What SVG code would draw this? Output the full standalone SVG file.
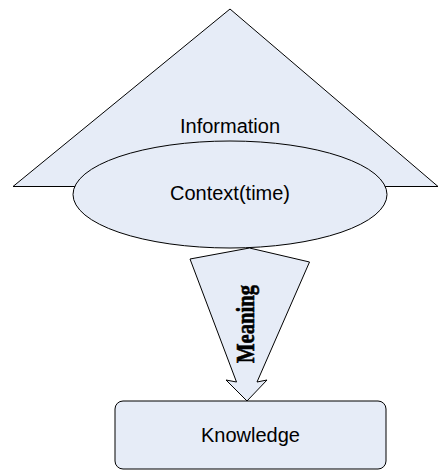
<svg xmlns="http://www.w3.org/2000/svg" width="441" height="471" viewBox="0 0 441 471">
<style>
.shape{fill:#E6ECF7;stroke:#000;stroke-width:1}
.lbl{font-family:"Liberation Sans",Arial,sans-serif;font-size:20px;fill:#000;text-anchor:middle}
.vlbl{font-family:"Liberation Serif","Times New Roman",serif;font-size:26px;font-weight:bold;fill:#000;stroke:#000;stroke-width:0.6;text-anchor:middle}
</style>
<rect width="441" height="471" fill="#fff"/>
<g id="information">
<polygon class="shape" points="230,9 438,186.5 13,186.5"/>
<text class="lbl" x="230" y="133">Information</text>
</g>
<g id="context">
<ellipse class="shape" cx="230" cy="194.5" rx="157" ry="53.5"/>
<text class="lbl" x="230" y="200">Context(time)</text>
</g>
<g id="knowledge">
<rect class="shape" x="115" y="401" width="271" height="68" rx="8" ry="8"/>
<text class="lbl" x="250.5" y="442">Knowledge</text>
</g>
<g id="connectors">
<g id="meaning">
<polygon class="shape" points="249.5,248 309.5,262 257,382 267,380 247,401 226,380 236.5,382 190,259"/>
<text class="vlbl" x="0" y="0" transform="translate(254,324) rotate(-90)" textLength="78" lengthAdjust="spacingAndGlyphs">Meaning</text>
</g>
</g>
</svg>
